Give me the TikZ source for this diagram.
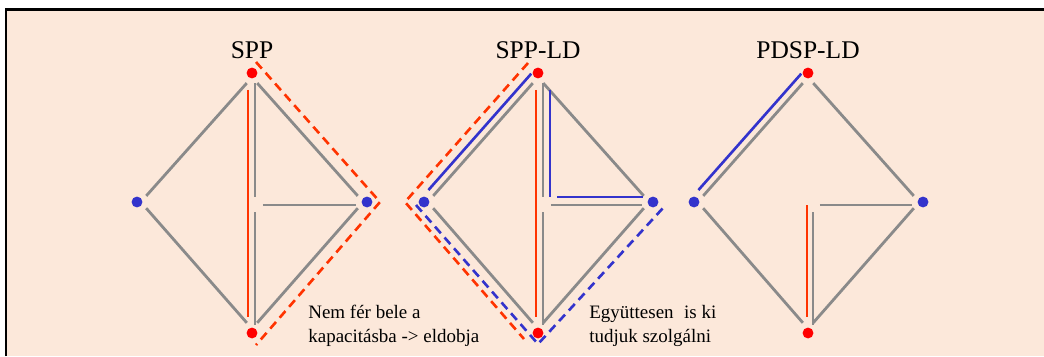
\documentclass[tikz,border=0pt]{standalone}
\usepackage{fontspec}
\setmainfont{Liberation Serif}
\usepackage{tikz}
\usetikzlibrary{calc}

\definecolor{bgpeach}{RGB}{252,232,218}
\definecolor{linkgray}{RGB}{138,138,138}
\definecolor{pathred}{RGB}{255,51,0}
\definecolor{dotred}{RGB}{255,0,0}
\definecolor{pathblue}{RGB}{51,51,204}

\begin{document}
\begin{tikzpicture}[x=0.02cm, y=-0.02cm,
    vertex/.style={circle, inner sep=0pt, minimum size=6.2pt},
    reddot/.style={vertex, fill=dotred},
    bluedot/.style={vertex, fill=pathblue},
    link/.style={draw=linkgray, line width=1.6pt, shorten <=6.2pt, shorten >=6.2pt},
    redline/.style={draw=pathred, line width=1.5pt},
    blueline/.style={draw=pathblue, line width=1.5pt},
    guard/.style={dash pattern=on 5pt off 3.2pt},
    title/.style={font=\fontsize{14.5}{17}\selectfont},
    note/.style={font=\fontsize{10.8}{13.6}\selectfont, align=left, anchor=west, inner sep=0pt}]

    % ==========================================
    % Frame
    % ==========================================
    \useasboundingbox (0,0) rectangle (1044,356);
    \fill[bgpeach] (7,10) rectangle (1044,356);
    \draw[line width=1.2pt] (6,356) -- (6,9.5) -- (1044,9.5);

    % ==========================================
    % 1. SPP
    % ==========================================
    \begin{scope}[shift={(252,73)}]
        \node[reddot] (sppT) at (0,0) {};
        \node[bluedot] (sppL) at (-115,129) {};
        \node[bluedot] (sppR) at (115,129) {};
        \node[reddot] (sppB) at (0,260) {};
        \coordinate (sppC) at (sppT |- sppL);
        \node[title] (sppTitle) at (0,-23) {SPP};

        % grey links
        \draw[link] ([shift={(2,2)}]sppT.center) -- ([shift={(2,2)}]sppL.center);
        \draw[link] ([shift={(2,-2)}]sppL.center) -- ([shift={(2,-2)}]sppB.center);
        \draw[link] ([shift={(-2,2)}]sppT.center) -- ([shift={(-2,2)}]sppR.center);
        \draw[link] ([shift={(-2,-2)}]sppR.center) -- ([shift={(-2,-2)}]sppB.center);
        \draw[link, shorten <=5.7pt, shorten >=2.8pt] ([shift={(3,0)}]sppT.center) -- ([shift={(3,0)}]sppC);
        \draw[link, shorten <=5.7pt, shorten >=4.5pt] ([shift={(3,0)}]sppC) -- ([shift={(3,0)}]sppB.center);
        \draw[link] ([shift={(0,3)}]sppC) -- ([shift={(0,3)}]sppR.center);

        % red route
        \draw[redline, shorten <=9.6pt, shorten >=9pt] ([shift={(-4,0)}]sppT.center) -- ([shift={(-4,0)}]sppB.center);
        \draw[redline, guard] ([shift={(4,-11)}]sppT.center) -- ([shift={(13,0)}]sppR.center) -- ([shift={(4,12)}]sppB.center);
    \end{scope}

    % ==========================================
    % 2. SPP-LD
    % ==========================================
    \begin{scope}[shift={(538,73)}]
        \node[reddot] (ldT) at (0,0) {};
        \node[bluedot] (ldL) at (-114,129) {};
        \node[bluedot] (ldR) at (115,129) {};
        \node[reddot] (ldB) at (0,260) {};
        \coordinate (ldC) at (ldT |- ldL);
        \node[title] (ldTitle) at (0,-23) {SPP-LD};

        % grey links
        \draw[link] ([shift={(2,2)}]ldT.center) -- ([shift={(2,2)}]ldL.center);
        \draw[link] ([shift={(2,-2)}]ldL.center) -- ([shift={(2,-2)}]ldB.center);
        \draw[link] ([shift={(-2,2)}]ldT.center) -- ([shift={(-2,2)}]ldR.center);
        \draw[link] ([shift={(-2,-2)}]ldR.center) -- ([shift={(-2,-2)}]ldB.center);
        \draw[link, shorten <=5.7pt, shorten >=2.8pt] ([shift={(5,0)}]ldT.center) -- ([shift={(5,0)}]ldC);
        \draw[link, shorten <=5.7pt, shorten >=4.5pt] ([shift={(5,0)}]ldC) -- ([shift={(5,0)}]ldB.center);
        \draw[link] ([shift={(2,3)}]ldC) -- ([shift={(0,3)}]ldR.center);

        % red route
        \draw[redline, shorten <=9.6pt, shorten >=9pt] ([shift={(-2,0)}]ldT.center) -- ([shift={(-2,0)}]ldB.center);
        \draw[redline, guard] ([shift={(-10,-10)}]ldT.center) -- ([shift={(-19,0)}]ldL.center) -- ([shift={(-14,6)}]ldB.center);

        % blue route
        \draw[blueline, shorten <=2.8pt, shorten >=6.8pt] ([shift={(-3.5,-3)}]ldT.center) -- ([shift={(-3.5,-3)}]ldL.center);
        \draw[blueline, shorten <=9.6pt] ([shift={(12,0)}]ldT.center) -- ([shift={(12,-5)}]ldC);
        \draw[blueline, shorten >=5.7pt] ([shift={(19,-5)}]ldC) -- ([shift={(0,-5)}]ldR.center);
        \draw[blueline, guard] ([shift={(-8,3)}]ldL.center) -- ([shift={(0,11)}]ldB.center) -- ([shift={(10,6)}]ldR.center);
    \end{scope}

    % ==========================================
    % 3. PDSP-LD
    % ==========================================
    \begin{scope}[shift={(808,73)}]
        \node[reddot] (pdT) at (0,0) {};
        \node[bluedot] (pdL) at (-114,129) {};
        \node[bluedot] (pdR) at (115,129) {};
        \node[reddot] (pdB) at (0,260) {};
        \coordinate (pdC) at (pdT |- pdL);
        \node[title] (pdTitle) at (0,-23) {PDSP-LD};

        % grey links
        \draw[link] ([shift={(2,2)}]pdT.center) -- ([shift={(2,2)}]pdL.center);
        \draw[link] ([shift={(2,-2)}]pdL.center) -- ([shift={(2,-2)}]pdB.center);
        \draw[link] ([shift={(-2,2)}]pdT.center) -- ([shift={(-2,2)}]pdR.center);
        \draw[link] ([shift={(-2,-2)}]pdR.center) -- ([shift={(-2,-2)}]pdB.center);
        \draw[link, shorten <=5.7pt, shorten >=4.5pt] ([shift={(5,0)}]pdC) -- ([shift={(5,0)}]pdB.center);
        \draw[link] ([shift={(1,3)}]pdC) -- ([shift={(0,3)}]pdR.center);

        % routes
        \draw[blueline, shorten <=2.8pt, shorten >=6.8pt] ([shift={(-3.5,-3)}]pdT.center) -- ([shift={(-3.5,-3)}]pdL.center);
        \draw[redline, shorten >=9pt] ([shift={(-1,3)}]pdC) -- ([shift={(-1,0)}]pdB.center);
    \end{scope}

    % ==========================================
    % Notes
    % ==========================================
    \node[note] (noteDrop) at (308,326) {Nem fér bele a\\kapacitásba -> eldobja};
    \node[note] (noteServe) at (589,326) {Együttesen\hspace{0.3em} is ki\\tudjuk szolgálni};

\end{tikzpicture}
\end{document}
